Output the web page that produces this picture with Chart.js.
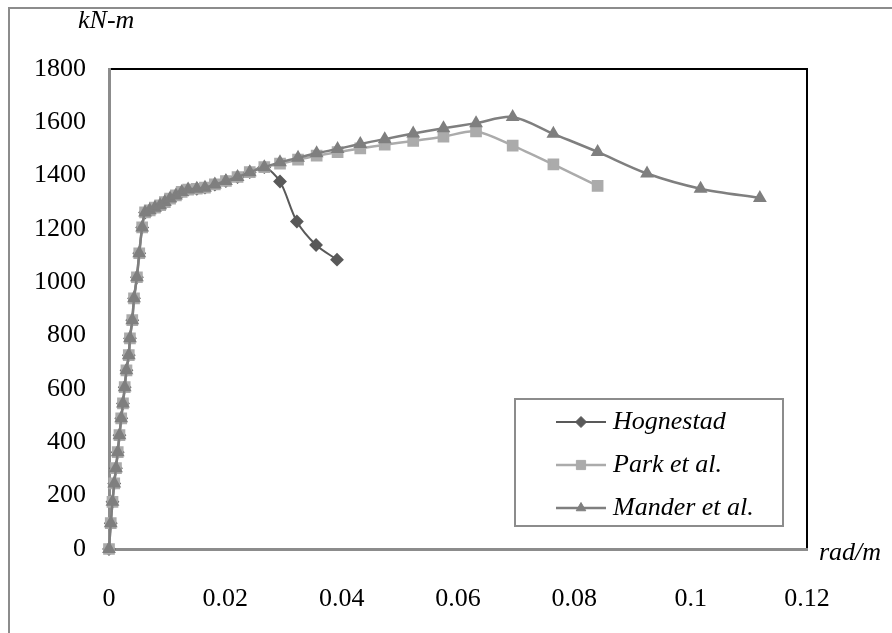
<!DOCTYPE html>
<html>
<head>
<meta charset="utf-8">
<script src="https://cdn.jsdelivr.net/npm/chart.js@4"></script>
<style>
  body { margin: 0; background: #fff; }
  canvas { display: block; }
</style>
</head>
<body>
<canvas id="momentChart" width="892" height="633"></canvas>
<script>
// common rising branch (all three models overlap here)
const riseCurv = [0, 0.0003, 0.0006, 0.0009, 0.0012, 0.0015, 0.0018, 0.0021, 0.0024, 0.0027, 0.003, 0.0034,
                  0.0036, 0.004, 0.0043, 0.0048, 0.0052, 0.0057, 0.0062, 0.007, 0.0079, 0.0088, 0.0096, 0.0105,
                  0.0115, 0.0125, 0.0136, 0.0151, 0.0165, 0.0182, 0.0201, 0.0221, 0.0242, 0.0267];
const riseMoment = [0, 97, 177, 246, 303, 363, 427, 490, 546, 607, 670, 727,
                    790, 858, 940, 1019, 1109, 1206, 1262, 1270, 1280, 1289, 1301, 1314,
                    1326, 1339, 1348, 1351, 1355, 1367, 1380, 1395, 1413, 1432];

// after the branches split
const hognestadCurv = [0.0294, 0.0323, 0.0356, 0.0392];
const hognestadMoment = [1378, 1228, 1140, 1085];

const parkCurv = [0.0294, 0.0325, 0.0357, 0.0393, 0.0432, 0.0474, 0.0523, 0.0575, 0.0631, 0.0694, 0.0764, 0.084];
const parkMoment = [1445, 1460, 1475, 1488, 1502, 1516, 1530, 1546, 1566, 1513, 1442, 1362];

const manderCurv = [0.0294, 0.0325, 0.0357, 0.0393, 0.0432, 0.0474, 0.0523, 0.0575, 0.0631, 0.0694, 0.0764,
                    0.084, 0.0925, 0.1017, 0.1119];
const manderMoment = [1450, 1467, 1484, 1500, 1519, 1537, 1558, 1578, 1597, 1620, 1557, 1489, 1408, 1351, 1316];

const seriesNames = ['Hognestad', 'Park et al.', 'Mander et al.'];
const xTicks = [0, 0.02, 0.04, 0.06, 0.08, 0.1, 0.12];
const xTickLabels = ['0', '0.02', '0.04', '0.06', '0.08', '0.1', '0.12'];
const yTicks = [0, 200, 400, 600, 800, 1000, 1200, 1400, 1600, 1800];
const yTickLabels = ['0', '200', '400', '600', '800', '1000', '1200', '1400', '1600', '1800'];

function toPoints(xs, ys) {
    return xs.map((x, i) => ({ x: x, y: ys[i] }));
}

const serif = "'Liberation Serif', 'Times New Roman', serif";

// plot frame, outer frame, axis units and the boxed legend
const decorPlugin = {
    id: 'decor',
    beforeDraw(chart) {
        const { ctx, chartArea: a } = chart;
        ctx.save();
        ctx.strokeStyle = '#8c8c8c';
        ctx.lineWidth = 2;
        ctx.strokeRect(9, 8, 1000, 1000);
        ctx.strokeStyle = '#000';
        ctx.lineWidth = 2;
        ctx.strokeRect(a.left, a.top, a.right - a.left, a.bottom - a.top);
        ctx.restore();
    },
    afterDraw(chart) {
        const { ctx, chartArea: a } = chart;
        ctx.save();
        ctx.fillStyle = '#000';
        ctx.font = 'italic 26px ' + serif;
        ctx.textBaseline = 'middle';
        ctx.textAlign = 'left';
        ctx.fillText('kN-m', a.left - 31, a.top - 48);
        ctx.fillText('rad/m', a.right + 12, a.bottom + 4);

        // legend box
        const bx = a.left + 406, by = a.top + 330, bw = 268, bh = 127;
        ctx.fillStyle = '#fff';
        ctx.fillRect(bx, by, bw, bh);
        ctx.strokeStyle = '#8c8c8c';
        ctx.lineWidth = 2;
        ctx.strokeRect(bx, by, bw, bh);
        chart.data.datasets.forEach((ds, i) => {
            const y = by + 23 + i * 43;
            ctx.strokeStyle = ds.borderColor;
            ctx.lineWidth = ds.borderWidth;
            ctx.beginPath();
            ctx.moveTo(bx + 41, y);
            ctx.lineTo(bx + 91, y);
            ctx.stroke();
            ctx.fillStyle = ds.pointBackgroundColor;
            ctx.strokeStyle = ds.pointBackgroundColor;
            ctx.lineWidth = 1;
            Chart.helpers.drawPoint(ctx, { pointStyle: ds.pointStyle, radius: ds.pointRadius, borderWidth: 1 }, bx + 66, y);
            ctx.fillStyle = '#000';
            ctx.font = 'italic 26px ' + serif;
            ctx.textAlign = 'left';
            ctx.fillText(ds.label, bx + 98, y);
        });
        ctx.restore();
    }
};

const ctx = document.getElementById('momentChart').getContext('2d');
const chart = new Chart(ctx, {
    type: 'line',
    data: {
        datasets: [
            {
                label: seriesNames[0],
                data: toPoints(riseCurv.concat(hognestadCurv), riseMoment.concat(hognestadMoment)),
                borderColor: '#595959',
                pointBackgroundColor: '#595959',
                pointBorderColor: '#595959',
                pointStyle: 'rectRot',
                pointRadius: 5.5,
                borderWidth: 2,
                clip: false,
                order: 2
            },
            {
                label: seriesNames[1],
                data: toPoints(riseCurv.concat(parkCurv), riseMoment.concat(parkMoment)),
                borderColor: '#ababab',
                pointBackgroundColor: '#ababab',
                pointBorderColor: '#ababab',
                pointStyle: 'rect',
                pointRadius: 6.5,
                borderWidth: 2.5,
                clip: false,
                order: 1
            },
            {
                label: seriesNames[2],
                data: toPoints(riseCurv.concat(manderCurv), riseMoment.concat(manderMoment)),
                borderColor: '#7f7f7f',
                pointBackgroundColor: '#7f7f7f',
                pointBorderColor: '#7f7f7f',
                pointStyle: 'triangle',
                pointRadius: 5.5,
                borderWidth: 2.5,
                clip: false,
                order: 0
            }
        ]
    },
    options: {
        responsive: false,
        animation: false,
        devicePixelRatio: 1,
        tension: 0.3,
        layout: { padding: { left: 35, top: 69, right: 85, bottom: 0 } },
        plugins: {
            legend: { display: false },
            tooltip: { enabled: false }
        },
        scales: {
            x: {
                type: 'linear',
                min: 0,
                max: 0.12,
                afterBuildTicks: s => { s.ticks = xTicks.map(v => ({ value: v })); },
                afterFit: s => { s.height = 84; },
                grid: { display: false, drawTicks: false },
                border: { display: true, color: '#8c8c8c', width: 3 },
                ticks: {
                    padding: 35,
                    color: '#000',
                    font: { family: serif, size: 26 },
                    maxRotation: 0,
                    callback: (v, i) => xTickLabels[i]
                }
            },
            y: {
                type: 'linear',
                min: 0,
                max: 1800,
                afterBuildTicks: s => { s.ticks = yTicks.map(v => ({ value: v })); },
                afterFit: s => { s.width = 74; },
                grid: { display: false, drawTicks: false },
                border: { display: true, color: '#8c8c8c', width: 3 },
                ticks: {
                    padding: 23,
                    color: '#000',
                    font: { family: serif, size: 26 },
                    callback: (v, i) => yTickLabels[i]
                }
            }
        }
    },
    plugins: [decorPlugin]
});
</script>
</body>
</html>
